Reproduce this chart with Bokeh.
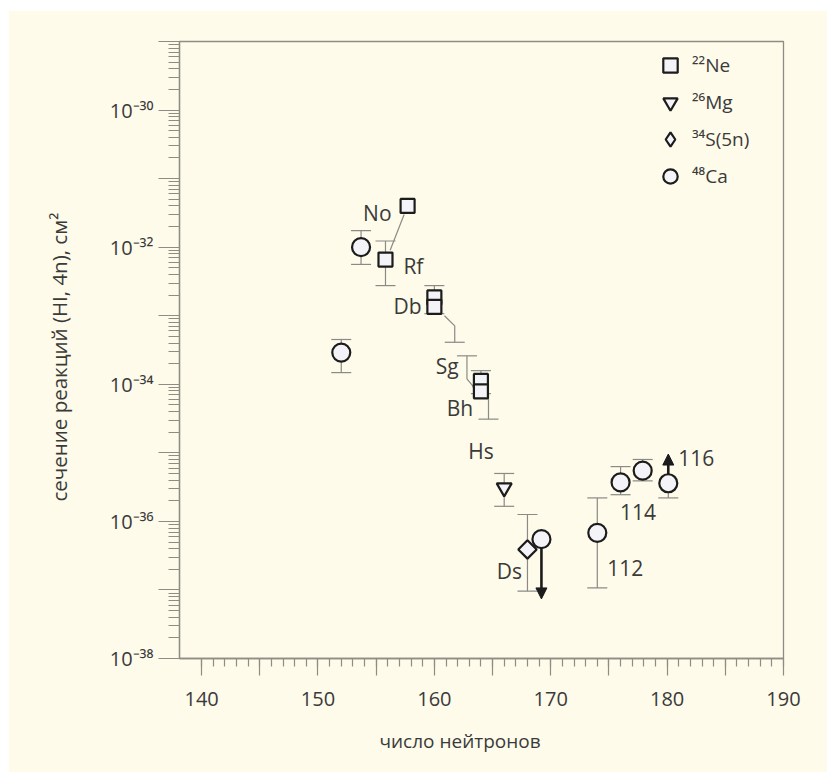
import math
from bokeh.plotting import figure
from bokeh.models import (FixedTicker, CustomJSTickFormatter, Whisker, TeeHead, Arrow,
                          NormalHead, ColumnDataSource, Legend, LegendItem, Title, Range1d)
from bokeh.core.properties import value
from bokeh.embed import file_html
from bokeh.resources import INLINE

# ---------------- data ----------------
ne_x = [157.7, 155.8, 160.0, 160.0, 164.0, 164.0]
ne_y = [4.0e-32, 6.6e-33, 1.85e-33, 1.35e-33, 1.12e-34, 7.9e-35]
mg_x = [166.0]
mg_y = [3.1e-36]
s_x = [168.0]
s_y = [3.9e-37]
ca_x = [152.0, 153.7, 169.2, 174.0, 176.0, 177.9, 180.1]
ca_y = [2.9e-34, 1.0e-32, 5.5e-37, 6.8e-37, 3.7e-36, 5.5e-36, 3.6e-36]

# error bars (both caps)
err_x = [152.0, 153.7, 155.8, 160.0, 164.0, 166.0, 168.0, 174.0, 176.0, 177.9]
err_lo = [1.48e-34, 5.6e-33, 2.75e-33, 1.07e-33, 7.3e-35, 1.66e-36, 9.6e-38, 1.07e-37, 2.45e-36, 3.9e-36]
err_hi = [4.5e-34, 1.74e-32, 1.23e-32, 2.75e-33, 1.58e-34, 5.0e-36, 1.26e-36, 2.2e-36, 6.3e-36, 8.0e-36]
# lower-only error bar
err1_x = [180.1]
err1_lo = [2.2e-36]
err1_hi = [3.6e-36]

# offset / bent error bars and connector lines
bent_xs = [[156.2, 157.4], [160.87, 161.75, 161.75], [162.8, 162.8, 163.4], [164.65, 164.65]]
bent_ys = [[9.0e-33, 3.0e-32], [1.0e-33, 7.1e-34, 4.1e-34], [2.6e-34, 1.2e-34, 9.0e-35], [7.0e-35, 3.1e-35]]
cap_x = [161.75, 162.8, 164.65]
cap_y = [4.1e-34, 2.6e-34, 3.1e-35]

# limit arrows
arr_x = [169.2, 180.1]
arr_y0 = [5.5e-37, 3.6e-36]
arr_y1 = [7.4e-38, 9.6e-36]

# element labels
lab_text = ["No", "Rf", "Db", "Sg", "Bh", "Hs", "Ds", "112", "114", "116"]
lab_x = [155.1, 158.2, 157.7, 161.1, 162.2, 164.0, 166.45, 176.4, 177.5, 182.5]
lab_y = [3.1e-32, 5.4e-33, 1.38e-33, 1.82e-34, 4.5e-35, 1.07e-35, 1.9e-37, 2.1e-37, 1.35e-36, 8.5e-36]

legend_labels = ["²²Ne", "²⁶Mg", "³⁴S(5n)", "⁴⁸Ca"]

x_ticks = [140, 145, 150, 155, 160, 165, 170, 175, 180, 185, 190]
x_tick_labels = ["140", "", "150", "", "160", "", "170", "", "180", "", "190"]
x_minor = list(range(140, 191))
y_ticks = [1e-38, 1e-37, 1e-36, 1e-35, 1e-34, 1e-33, 1e-32, 1e-31, 1e-30, 1e-29]
y_tick_labels = ["10⁻³⁸", "", "10⁻³⁶", "", "10⁻³⁴", "", "10⁻³²", "", "10⁻³⁰", ""]
y_minor = [m * 10.0 ** e for e in range(-38, -29) for m in range(2, 10)]

x_title = "число нейтронов"
y_title = "сечение реакций (HI, 4n), см²"

# ---------------- style ----------------
BG = "#fefbea"
AX = "#8e8d84"
TXT = "#3a3a3a"
MK = "#1c1c1c"
MF = "#f3f3f8"
EB = "#8a8a86"
FONT = "Open Sans"

p = figure(width=819, height=762, x_range=Range1d(138.1, 190), y_range=Range1d(1e-38, 1e-29),
           y_axis_type="log", output_backend="svg", toolbar_location=None,
           min_border_left=170, min_border_right=44, min_border_top=31, min_border_bottom=114,
           background_fill_color=BG, border_fill_color=BG,
           outline_line_color=AX, outline_line_width=1.3)
p.margin = (10, 0, 0, 8)
p.xgrid.visible = False
p.ygrid.visible = False

p.xaxis.ticker = FixedTicker(ticks=x_ticks, minor_ticks=x_minor)
p.xaxis.formatter = CustomJSTickFormatter(args=dict(tk=x_ticks, lb=x_tick_labels), code="""
const i = tk.findIndex(t => Math.abs(t - tick) < 1e-6);
return i >= 0 ? lb[i] : "";
""")
p.yaxis.ticker = FixedTicker(ticks=y_ticks, minor_ticks=y_minor)
p.yaxis.formatter = CustomJSTickFormatter(args=dict(tk=y_ticks, lb=y_tick_labels), code="""
const i = tk.findIndex(t => Math.abs(Math.log10(t) - Math.log10(tick)) < 1e-6);
return i >= 0 ? lb[i] : "";
""")

for ax in (p.xaxis[0], p.yaxis[0]):
    ax.axis_line_color = AX
    ax.axis_line_width = 1.3
    ax.major_tick_line_color = AX
    ax.minor_tick_line_color = AX
    ax.major_tick_line_width = 1.2
    ax.minor_tick_line_width = 1.2
    ax.major_tick_in = 0
    ax.minor_tick_in = 0
    ax.major_label_text_font = FONT
    ax.major_label_text_font_size = "20px"
    ax.major_label_text_color = TXT
p.xaxis.major_tick_out = 17
p.xaxis.minor_tick_out = 8
p.xaxis.major_label_standoff = 16
p.yaxis.major_tick_out = 21
p.yaxis.minor_tick_out = 11
p.yaxis.major_label_standoff = 5

# bent bars / connectors and caps
p.multi_line(xs=bent_xs, ys=bent_ys, line_color=EB, line_width=1.2)
p.scatter(x=cap_x, y=cap_y, marker="dash", size=20, line_color=EB, line_width=1.2)

src_e = ColumnDataSource(dict(x=err_x, lo=err_lo, hi=err_hi))
p.add_layout(Whisker(base="x", lower="lo", upper="hi", source=src_e, dimension="height",
                     line_color=EB, line_width=1.2, level="underlay",
                     lower_head=TeeHead(size=20, line_color=EB, line_width=1.2),
                     upper_head=TeeHead(size=20, line_color=EB, line_width=1.2)))
src_e1 = ColumnDataSource(dict(x=err1_x, lo=err1_lo, hi=err1_hi))
p.add_layout(Whisker(base="x", lower="lo", upper="hi", source=src_e1, dimension="height",
                     line_color=EB, line_width=1.2, level="underlay",
                     lower_head=TeeHead(size=20, line_color=EB, line_width=1.2),
                     upper_head=None))

src_a = ColumnDataSource(dict(x=arr_x, y0=arr_y0, y1=arr_y1))
p.add_layout(Arrow(x_start="x", y_start="y0", x_end="x", y_end="y1", source=src_a,
                   line_color=MK, line_width=2.6, level="underlay",
                   end=NormalHead(size=11, fill_color=MK, line_color=MK, line_width=1)))

r_ne = p.scatter(x=ne_x, y=ne_y, marker="square", size=14, line_color=MK, line_width=2.2, fill_color=MF)
r_mg = p.scatter(x=mg_x, y=mg_y, marker="inverted_triangle", size=15, line_color=MK, line_width=2.2, fill_color=MF)
# diamond glyph (used for the legend), hidden under the rotated square drawn on top
r_s = p.scatter(x=s_x, y=s_y, marker="diamond", size=12, line_color=MK, line_width=2.2, fill_color=MF)
p.scatter(x=s_x, y=s_y, marker="square", angle=math.pi / 4, size=13, line_color=MK, line_width=2.2, fill_color=MF)
r_ca = p.scatter(x=ca_x, y=ca_y, marker="circle", size=18, line_color=MK, line_width=2.2, fill_color=MF)

p.text(x=lab_x, y=lab_y, text=lab_text, text_font=value(FONT), text_font_size="21px",
       text_color=TXT, text_align="center", text_baseline="middle")

legend = Legend(items=[LegendItem(label=l, renderers=[r]) for l, r in
                       zip(legend_labels, [r_ne, r_mg, r_s, r_ca])],
                location=(473, 464), glyph_width=36, glyph_height=36, spacing=1,
                label_standoff=4, padding=0, margin=0, border_line_color=None,
                background_fill_alpha=0, label_text_font=FONT, label_text_font_size="19px",
                label_text_color=TXT)
p.add_layout(legend, "center")

p.add_layout(Title(text=y_title, align="left", offset=157, standoff=68,
                   text_font=FONT, text_font_size="20.5px", text_font_style="normal",
                   text_color=TXT), "left")
p.add_layout(Title(text=x_title, align="left", offset=200, standoff=34,
                   text_font=FONT, text_font_size="19px", text_font_style="normal",
                   text_color=TXT), "below")

open("out.html", "w").write(file_html(p, INLINE))
